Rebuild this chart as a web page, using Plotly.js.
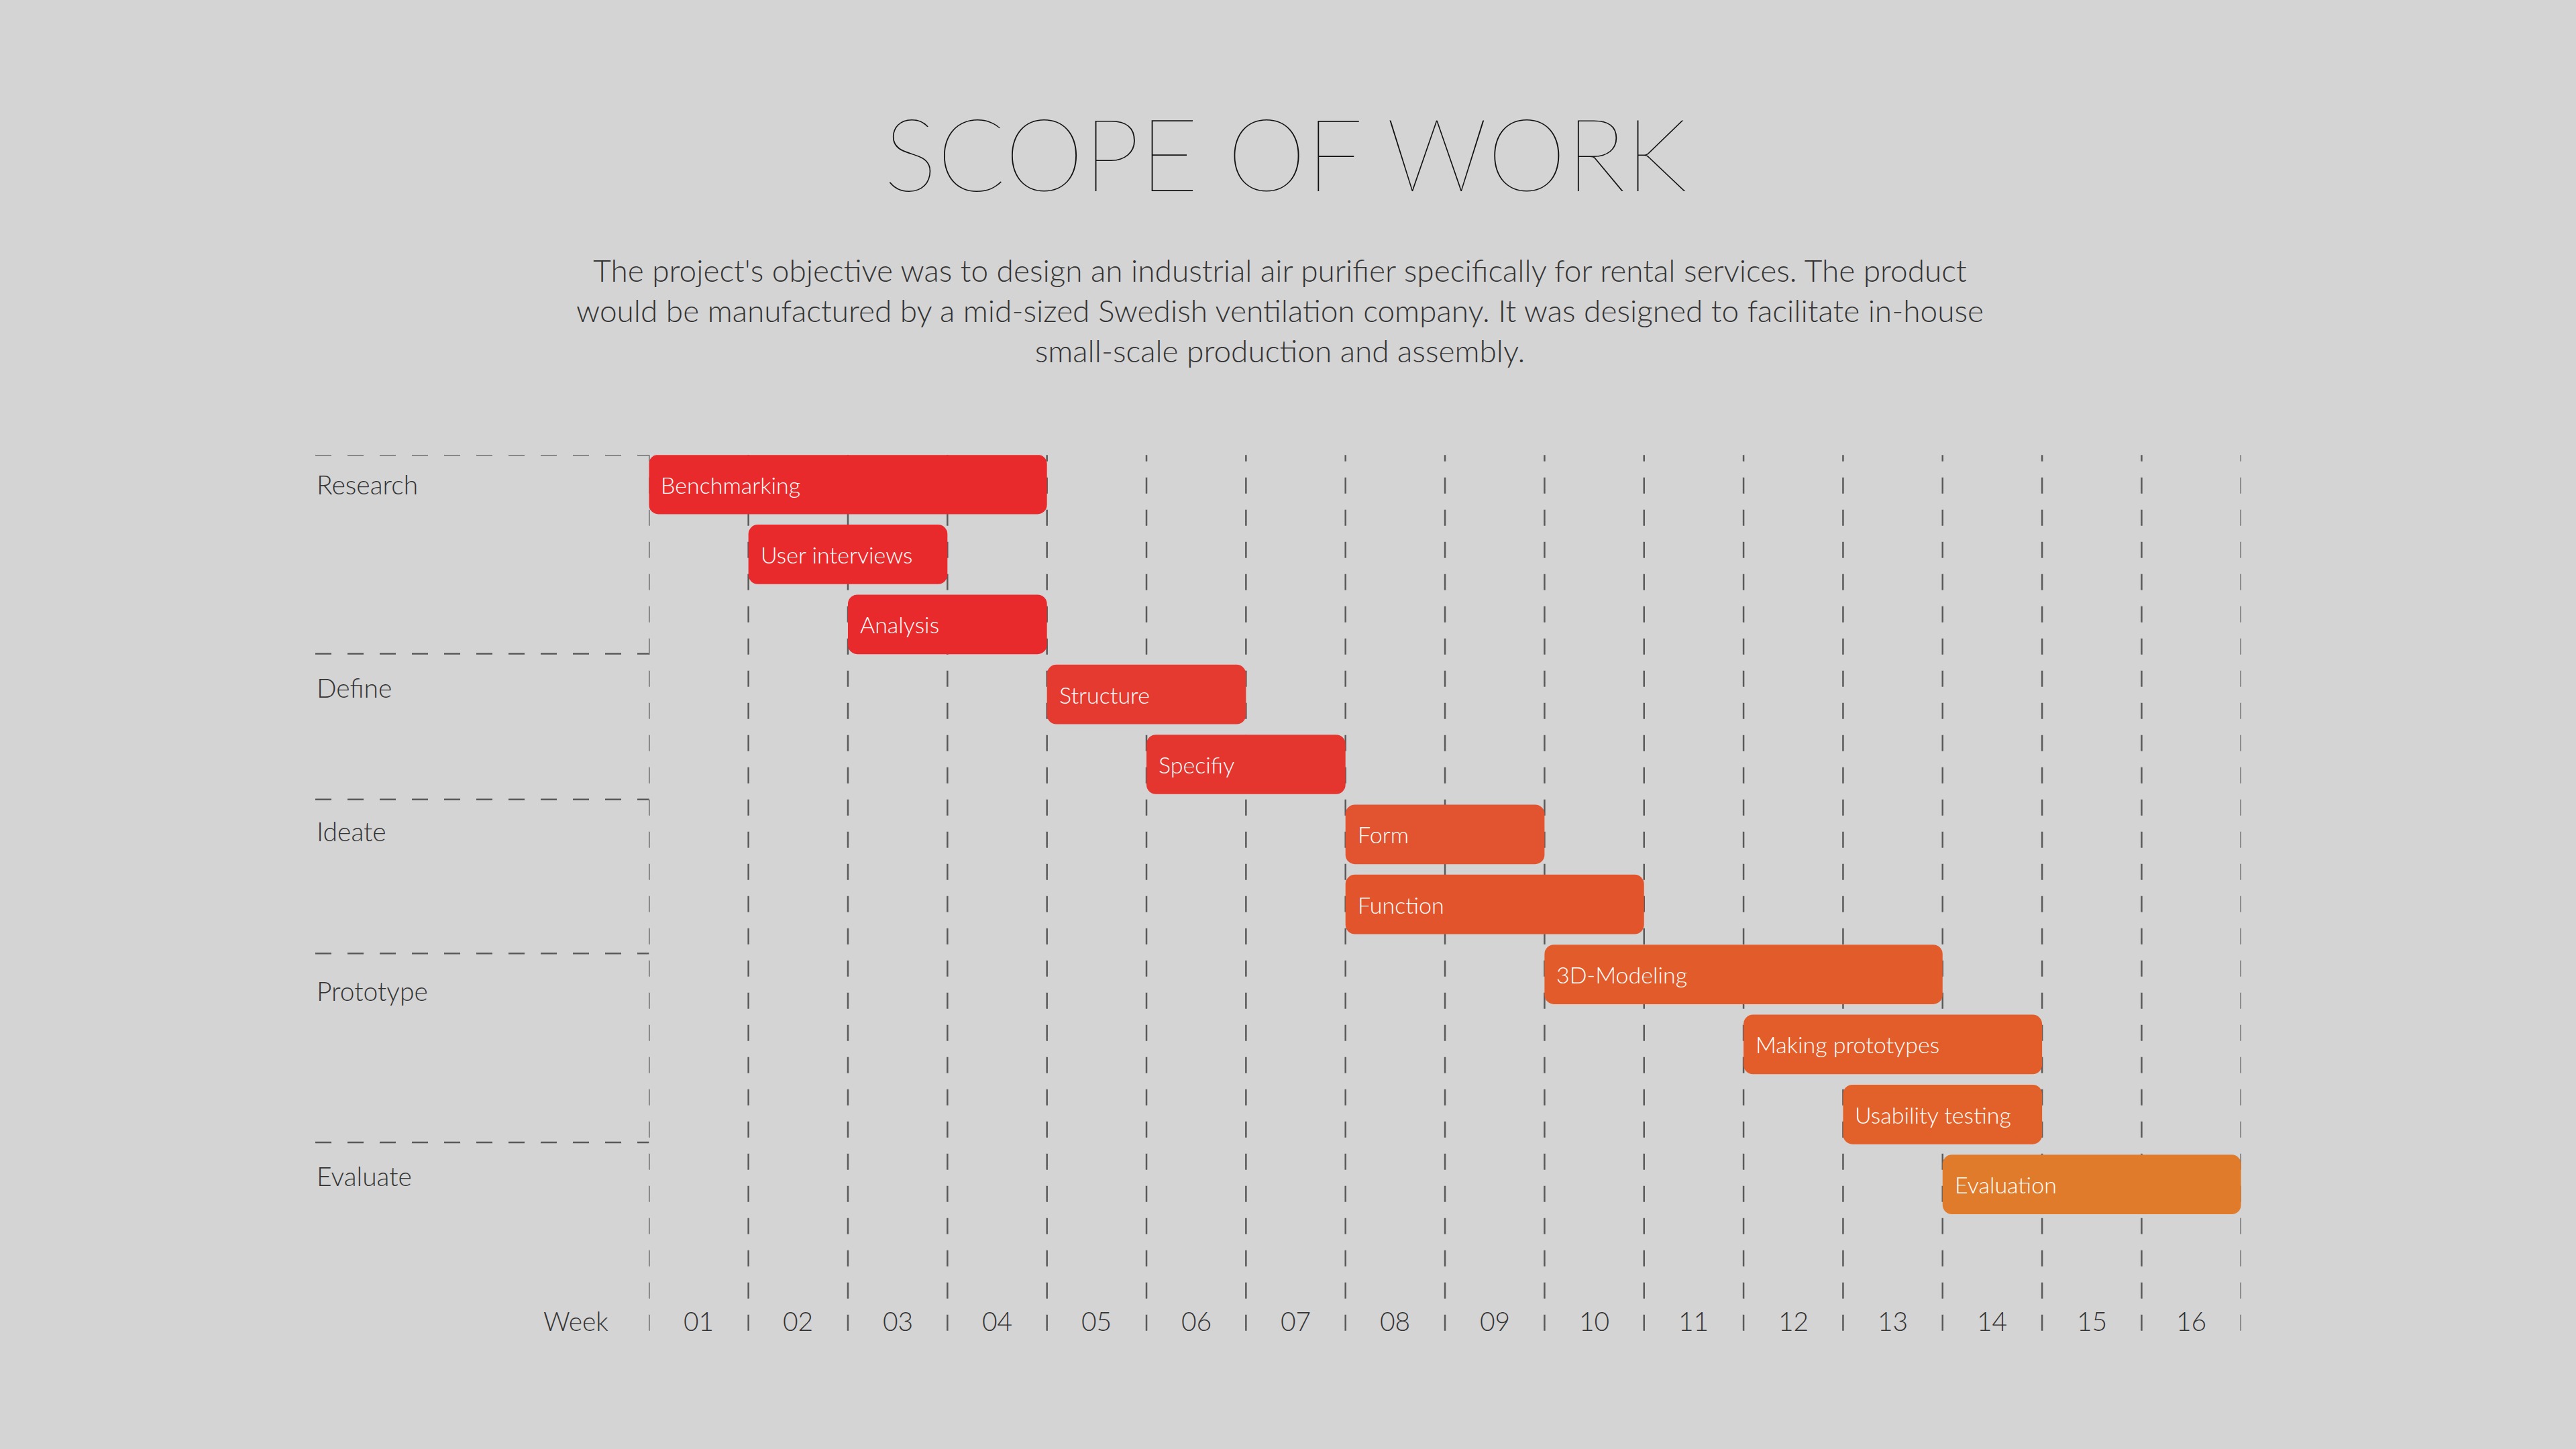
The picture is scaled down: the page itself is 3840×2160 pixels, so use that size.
<!DOCTYPE html>
<html>
<head>
<meta charset="utf-8">
<script src="https://cdn.plot.ly/plotly-3.0.1.min.js"></script>
<style>html,body{margin:0;padding:0;background:#d4d4d4;}#chart{width:3840px;height:2160px;}</style>
</head>
<body>
<div id="chart"></div>
<script>
// tasks, one per row, start/end in weeks
const tasks = ['Benchmarking', 'User interviews', 'Analysis', 'Structure', 'Specifiy', 'Form',
    'Function', '3D-Modeling', 'Making prototypes', 'Usability testing', 'Evaluation'];
const taskStart = [0, 1, 2, 4, 5, 7, 7, 9, 11, 12, 13];
const taskEnd = [4, 3, 4, 6, 7, 9, 10, 13, 14, 14, 16];
const taskColors = ['#e82a2c', '#e82a2c', '#e82a2c', '#e53a30', '#e5352f', '#e2532f',
    '#e2552c', '#e25b2a', '#e25d2a', '#e2602a', '#e07b2b'];

const phases = ['Research', 'Define', 'Ideate', 'Prototype', 'Evaluate'];
const phaseLine = [-0.42, 2.42, 4.5, 6.7, 9.4];
const phaseLabel = [0, 2.9, 4.95, 7.23, 9.88];

const weeks = ['01', '02', '03', '04', '05', '06', '07', '08', '09', '10', '11', '12', '13', '14', '15', '16'];
const weekBounds = [0, 1, 2, 3, 4, 5, 6, 7, 8, 9, 10, 11, 12, 13, 14, 15, 16];

const rows = tasks.map((t, i) => i);

const data = [{
    type: 'bar',
    orientation: 'h',
    y: rows,
    base: taskStart,
    x: taskEnd.map((e, i) => e - taskStart[i]),
    width: 0.85,
    marker: { color: taskColors, cornerradius: 14, line: { width: 0 } },
    hoverinfo: 'skip',
}];

const font = 'Lato, "Open Sans", sans-serif';
const dashLine = { color: '#5a5a5a', width: 2.5, dash: '24px,24px' };

const annotations = [];
tasks.forEach((t, i) => annotations.push({
    x: taskStart[i], y: i, xref: 'x', yref: 'y', text: t, showarrow: false,
    xanchor: 'left', xshift: 16, font: { family: font, size: 34, color: '#ffffff', weight: 300 }
}));
phases.forEach((p, i) => annotations.push({
    x: 0.1224, y: phaseLabel[i], xref: 'paper', yref: 'y', text: p, showarrow: false,
    xanchor: 'left', font: { family: font, size: 39, color: '#333333', weight: 300 }
}));
weeks.forEach((w, i) => annotations.push({
    x: i + 0.5, y: 11.95, xref: 'x', yref: 'y', text: w, showarrow: false,
    font: { family: font, size: 39, color: '#333333', weight: 300 }
}));
annotations.push({
    x: 0.2366, y: 11.95, xref: 'paper', yref: 'y', text: 'Week', showarrow: false, xanchor: 'right',
    font: { family: font, size: 39, color: '#333333', weight: 300 }
});
annotations.push({
    x: 0.497, y: 1 - 189 / 882, xref: 'paper', yref: 'paper', yanchor: 'middle', showarrow: false,
    text: "The project's objective was to design an industrial air purifier specifically for rental services. The product<br>" +
        "would be manufactured by a mid-sized Swedish ventilation company. It was designed to facilitate in-house<br>" +
        "small-scale production and assembly.",
    font: { family: font, size: 46, color: '#333333', weight: 300 }
});

const shapes = phaseLine.map(v => ({
    type: 'line', xref: 'paper', yref: 'y', x0: 0.1224, x1: 0.2519, y0: v, y1: v, line: dashLine
}));
weekBounds.forEach(w => shapes.push({
    type: 'line', xref: 'x', yref: 'paper', x0: w, x1: w, y0: 0.0816, y1: 0.686,
    line: dashLine, layer: 'below'
}));

const layout = {
    width: 3840, height: 2160,
    margin: { l: 0, r: 0, t: 0, b: 0 },
    paper_bgcolor: '#d4d4d4',
    plot_bgcolor: '#d4d4d4',
    showlegend: false,
    title: {
        text: 'SCOPE OF WORK', x: 0.499, y: 1 - 95 / 882, xanchor: 'center', yanchor: 'middle',
        font: { family: font, size: 150, color: '#111111', weight: 200 }
    },
    xaxis: {
        domain: [0.2519, 0.87],
        range: [0, 16],
        showticklabels: false, ticks: '', showgrid: false, zeroline: false,
    },
    yaxis: {
        domain: [0.0816, 0.686],
        range: [12.09, -0.42],
        showticklabels: false, showgrid: false, zeroline: false,
    },
    annotations: annotations,
    shapes: shapes,
};

Plotly.newPlot('chart', data, layout, { displayModeBar: false, staticPlot: true });
</script>
</body>
</html>
